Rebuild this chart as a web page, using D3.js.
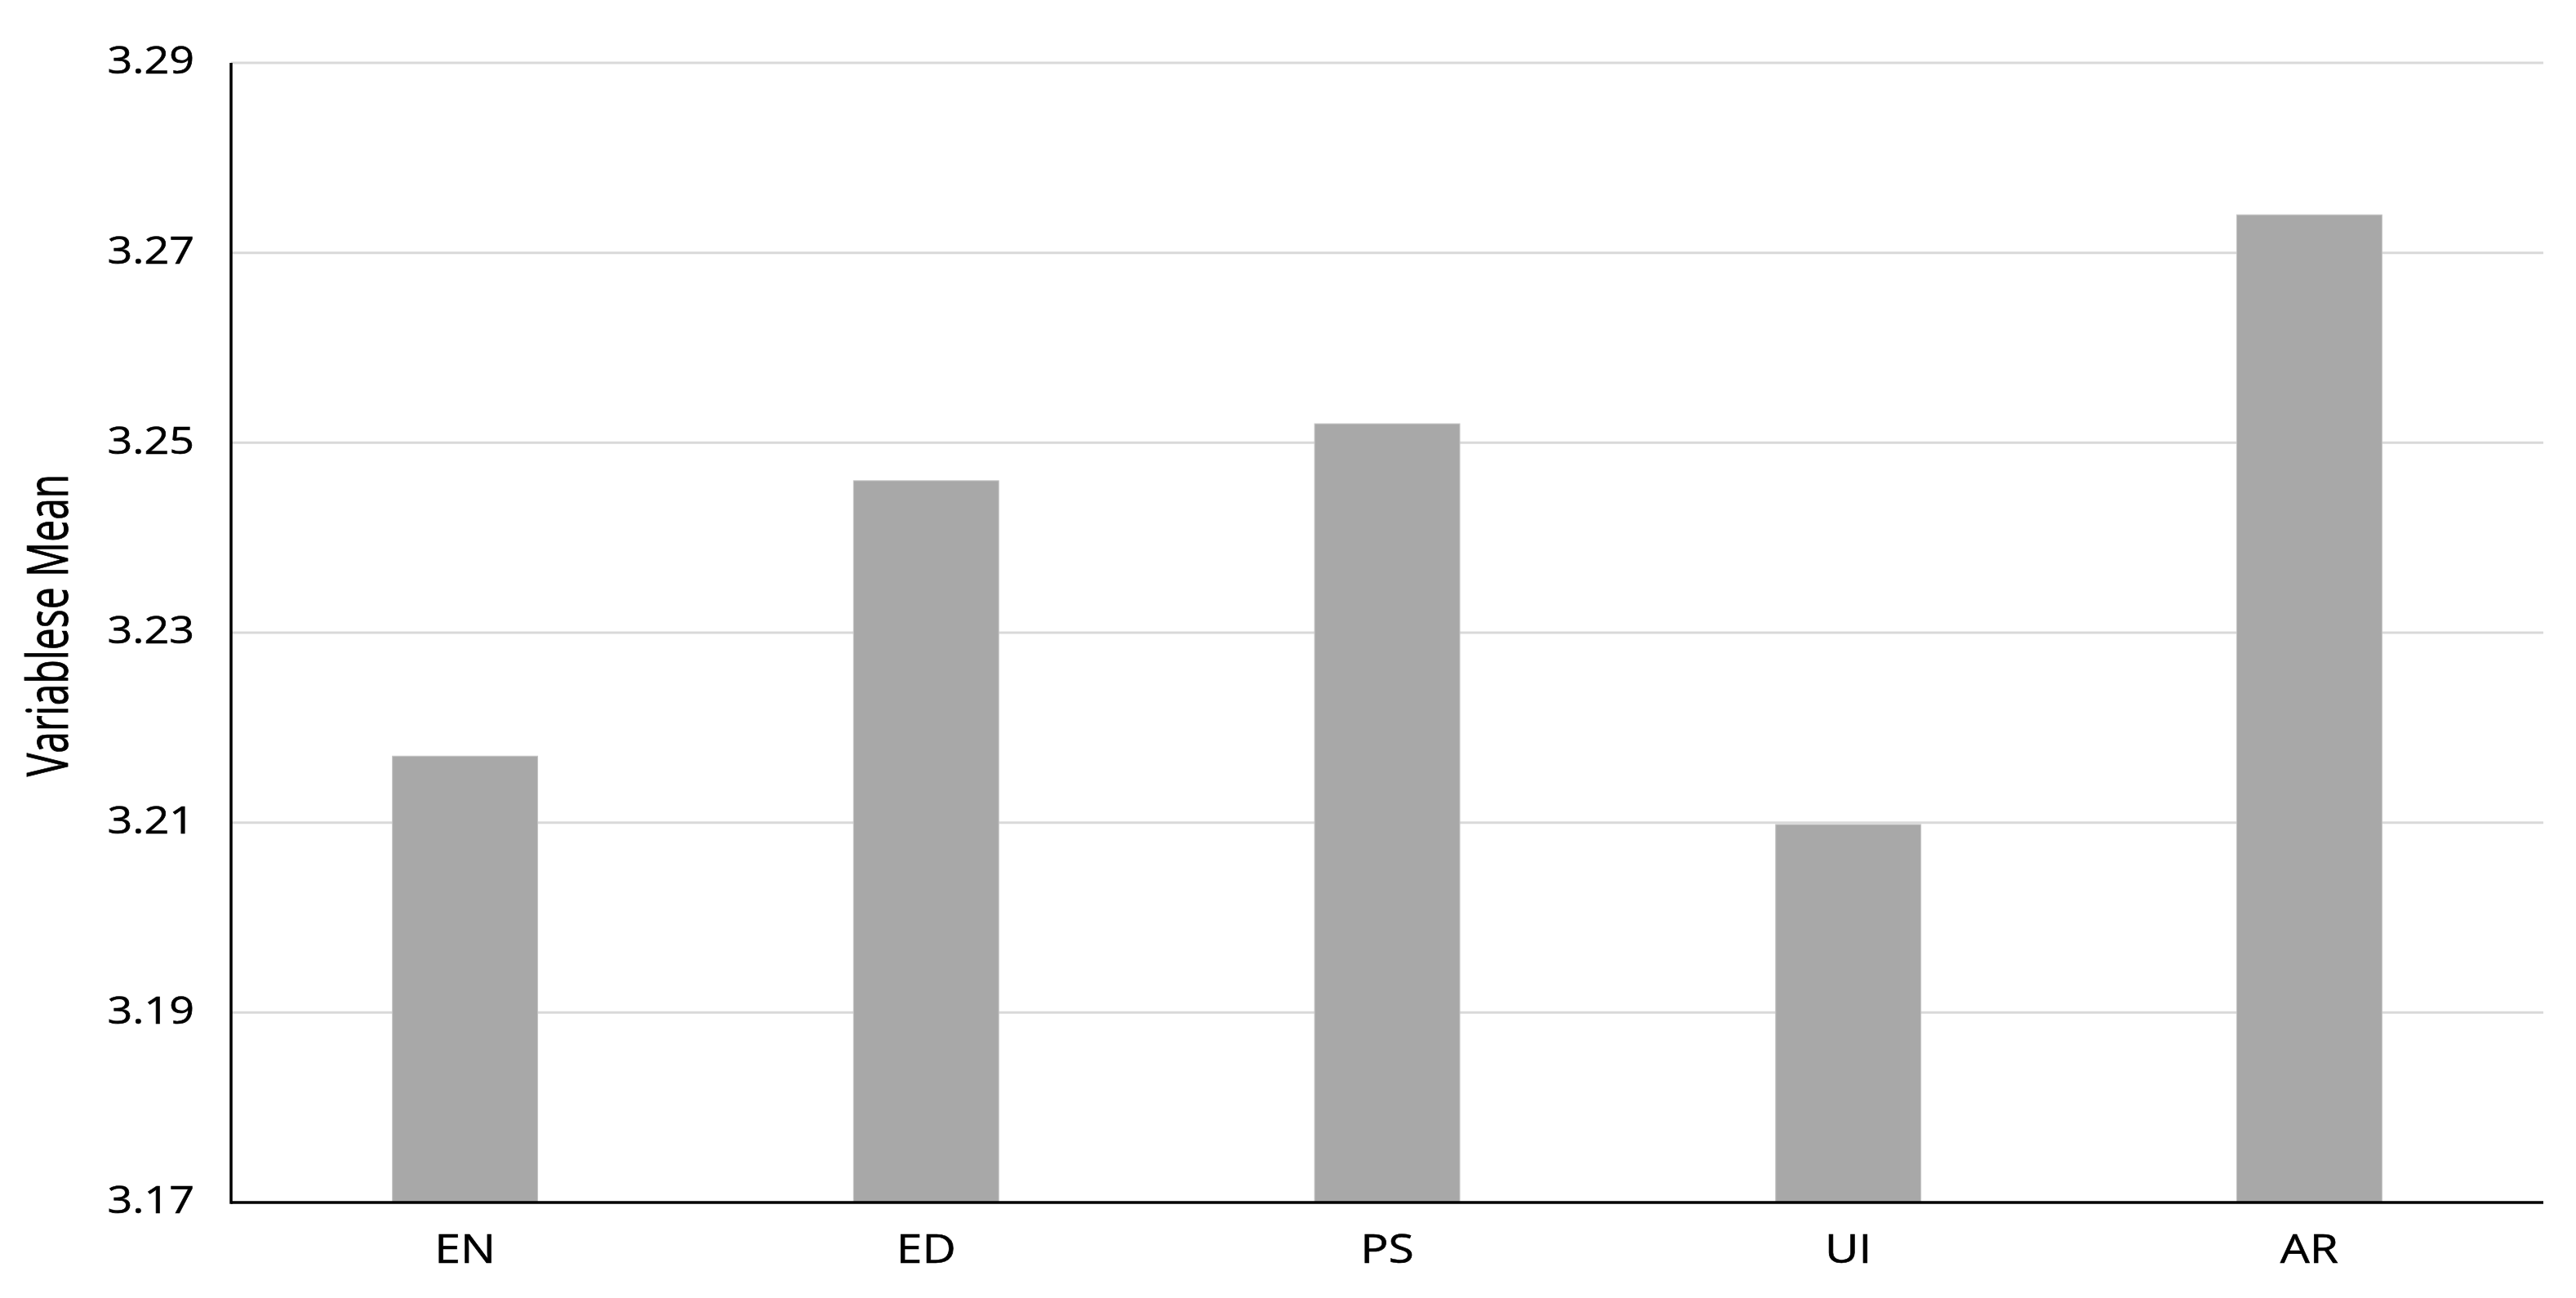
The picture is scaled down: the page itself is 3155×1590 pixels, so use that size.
<!DOCTYPE html>
<meta charset="utf-8">
<style>
body { margin: 0; background: #fff; }
text { font-family: "Open Sans", "Noto Sans", sans-serif; fill: #000; stroke: #000; stroke-width: 0.6; }
.grid line { stroke: #d9d9d9; stroke-width: 3; }
.bar { fill: #a8a8a8; stroke: #c4c4c4; stroke-width: 1; }
.axis path, .axis line { display: none; }
.frame { stroke: #000; stroke-width: 3.5; }
</style>
<svg width="3155" height="1590"></svg>
<script src="https://cdn.jsdelivr.net/npm/d3@7/dist/d3.min.js"></script>
<script>

var categories = ["EN", "ED", "PS", "UI", "AR"];
var means = [3.217, 3.246, 3.252, 3.2098, 3.274];
var yTicks = [3.17, 3.19, 3.21, 3.23, 3.25, 3.27, 3.29];
var yTitle = "Variablese Mean";

var svg = d3.select("svg"),
    margin = {top: 77, right: 40, bottom: 117, left: 283},
    width = +svg.attr("width") - margin.left - margin.right,
    height = +svg.attr("height") - margin.top - margin.bottom;

var x = d3.scaleBand().domain(categories).range([0, width])
    .paddingInner(0.685).paddingOuter(0.35);
var y = d3.scaleLinear().domain([3.17, 3.29]).range([height, 0]);

var g = svg.append("g")
    .attr("transform", "translate(" + margin.left + "," + margin.top + ")");

// gridlines
g.append("g").attr("class", "grid")
  .selectAll("line")
  .data(yTicks.slice(1))
  .enter().append("line")
    .attr("x1", 0).attr("x2", width)
    .attr("y1", function(d) { return y(d); })
    .attr("y2", function(d) { return y(d); });

var data = categories.map(function(c, i) { return {category: c, value: means[i]}; });

g.selectAll(".bar")
  .data(data)
  .enter().append("rect")
    .attr("class", "bar")
    .attr("x", function(d) { return x(d.category); })
    .attr("y", function(d) { return y(d.value); })
    .attr("width", x.bandwidth())
    .attr("height", function(d) { return height - y(d.value); });

// y axis
var yAxis = g.append("g")
    .attr("class", "axis axis--y")
    .call(d3.axisLeft(y).tickValues(yTicks).tickFormat(d3.format(".2f")).tickSize(0));
yAxis.selectAll("text")
    .attr("x", 0)
    .attr("dy", "0.32em")
    .attr("font-size", 46)
    .attr("transform", "translate(-45,-2) scale(1.17,1)");

// x axis
var xAxis = g.append("g")
    .attr("class", "axis axis--x")
    .attr("transform", "translate(0," + height + ")")
    .call(d3.axisBottom(x).tickSize(0));
xAxis.selectAll("text")
    .attr("y", 0)
    .attr("dy", "0.71em")
    .attr("font-size", 50)
    .attr("transform", "translate(0,38) scale(1.14,1)");

// axis frame lines
g.append("line").attr("class", "frame")
    .attr("x1", 0).attr("x2", 0).attr("y1", 0).attr("y2", height + 1.75);
g.append("line").attr("class", "frame")
    .attr("x1", 0).attr("x2", width).attr("y1", height).attr("y2", height);

// y title
svg.append("text")
    .attr("text-anchor", "middle")
    .attr("font-size", 48)
    .attr("transform", "translate(83," + (margin.top + height / 2 - 9) + ") scale(1.45,1) rotate(-90)")
    .text(yTitle);

</script>
